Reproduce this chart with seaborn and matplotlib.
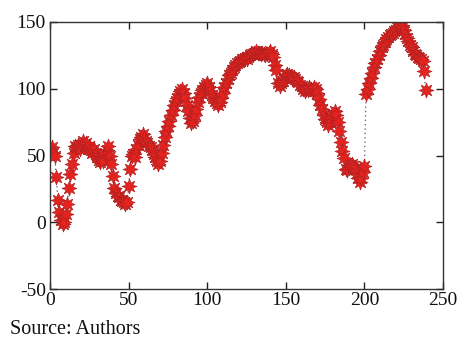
import numpy as np
import pandas as pd
import matplotlib
matplotlib.use("Agg")
import matplotlib.pyplot as plt
import seaborn as sns

# ---- data ----
x_values = list(range(1, 240))
y_values = [
    56, 52, 50, 34, 17, 8, 2, -1, 0, 6, 14, 26, 36, 44, 52, 57,
    56, 58, 55, 58, 61, 57, 59, 55, 57, 54, 52, 55, 51, 49, 47, 45, 48, 46, 52, 54, 57, 50, 44, 35,
    26, 22, 20, 19, 17, 16, 15, 14, 15, 27, 40, 50, 51, 49, 55, 58, 62, 64, 66, 63,
    61, 59, 57, 56, 54, 51, 49, 46, 44, 46, 52, 58, 64, 68, 72, 76, 80, 84, 88, 91,
    93, 96, 98, 100, 97, 93, 88, 83, 78, 74, 76, 80, 85, 90, 94, 97, 99, 101, 103, 104,
    101, 98, 95, 93, 91, 89, 88, 90, 93, 97, 101, 104, 107, 110, 112, 114, 116, 118, 119, 120,
    121, 122, 122, 123, 122, 124, 125, 126, 126, 127, 128, 127, 127, 126, 127, 126, 125, 126, 127, 128,
    126, 124, 118, 114, 104, 102, 104, 106, 108, 110, 111, 110, 109, 108, 109, 107, 106, 105, 103, 102,
    100, 98, 100, 99, 101, 100, 98, 101, 100, 97, 92, 88, 85, 80, 77, 75, 73, 75, 78, 81,
    83, 80, 75, 68, 60, 53, 48, 40, 39, 41, 43, 44, 42, 40, 37, 33, 30, 33, 38, 42,
    96, 100, 104, 108, 112, 116, 119, 122, 125, 128, 131, 133, 135, 137, 139, 140, 141, 142, 143, 144,
    146, 147, 148, 146, 144, 141, 138, 136, 133, 131, 128, 126, 125, 124, 123, 122, 121, 113, 99,
]
x_ticks = [0, 50, 100, 150, 200, 250]
y_ticks = [-50, 0, 50, 100, 150]
source_text = "Source: Authors"

df = pd.DataFrame({"x": x_values, "y": y_values})

sns.set_style("ticks")
plt.rcParams["font.family"] = ["Liberation Serif", "DejaVu Serif"]
plt.rcParams["axes.unicode_minus"] = False

fig = plt.figure(figsize=(4.65, 3.41), dpi=100)
ax = fig.add_axes([50 / 465, 1 - 289 / 341, 393 / 465, 267 / 341])

sns.lineplot(
    data=df, x="x", y="y", ax=ax,
    color="#555566", linestyle=(0, (1, 2.5)), linewidth=0.9,
    marker=(8, 1, 0), markersize=11,
    markerfacecolor="#e3231f", markeredgecolor="#a82020", markeredgewidth=0.4,
)

ax.set_xlim(0, 250)
ax.set_ylim(-50, 150)
ax.set_xticks(x_ticks)
ax.set_yticks(y_ticks)
ax.set_xlabel("")
ax.set_ylabel("")
ax.tick_params(direction="in", length=5, width=1, top=True, right=True,
               labelsize=14, pad=3, colors="#222222")
ax.tick_params(axis="x", pad=2)
ax.tick_params(labelcolor="#111111")
for s in ax.spines.values():
    s.set_color("#333333")
    s.set_linewidth(1)

fig.text(10 / 465, 1 - 334 / 341, source_text, fontsize=14.5, ha="left", va="baseline",
         color="#111111")

fig.savefig("out.png", dpi=100)
